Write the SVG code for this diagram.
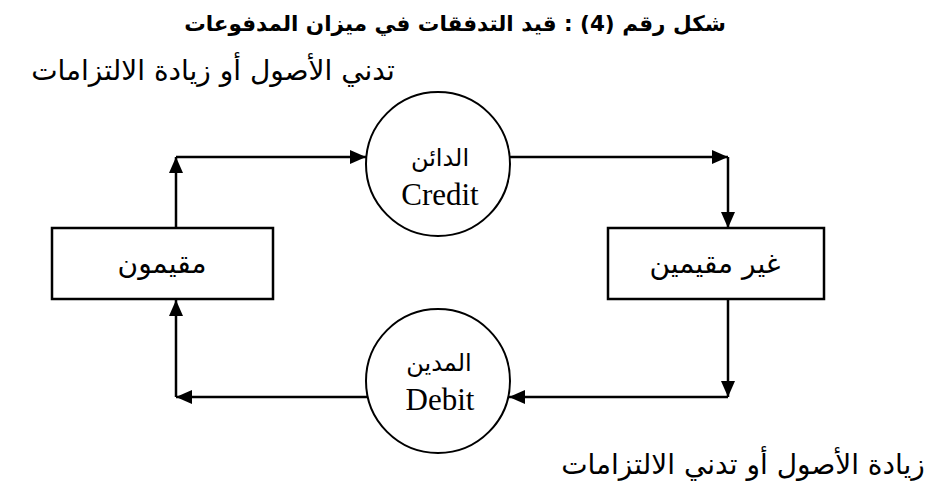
<svg xmlns="http://www.w3.org/2000/svg" width="939" height="494" viewBox="0 0 939 494">
<defs>
<marker id="ah" viewBox="0 0 16 14" refX="16" refY="7" markerWidth="16" markerHeight="14" markerUnits="userSpaceOnUse" orient="auto">
<path d="M0,0 L16,7 L0,14 Z" fill="#000"/>
</marker>
</defs>
<style>
.bg{fill:#fff}
.box{fill:#fff;stroke:#000;stroke-width:2.5}
.circ{fill:#fff;stroke:#000;stroke-width:2}
.ln{fill:none;stroke:#000;stroke-width:2.5}
.ar{font-family:"DejaVu Sans","Liberation Sans",sans-serif;fill:#000}
.en{font-family:"Liberation Serif","Times New Roman",serif;fill:#000}
</style>
<rect class="bg" x="0" y="0" width="939" height="494"/>
<g id="title">
<text class="ar" x="455" y="31" font-size="21.5" font-weight="bold" text-anchor="middle" direction="rtl">شكل رقم (4) : قيد التدفقات في ميزان المدفوعات</text>
</g>
<g id="label-top">
<text class="ar" x="213" y="80" font-size="28" text-anchor="middle" direction="rtl">تدني الأصول أو زيادة الالتزامات</text>
</g>
<g id="label-bottom">
<text class="ar" x="743" y="474" font-size="28" text-anchor="middle" direction="rtl">زيادة الأصول أو تدني الالتزامات</text>
</g>
<g id="connectors">
<polyline class="ln" points="176,228 176,157" marker-end="url(#ah)"/>
<polyline class="ln" points="176,157 366,157" marker-end="url(#ah)"/>
<polyline class="ln" points="510,157 728,157" marker-end="url(#ah)"/>
<polyline class="ln" points="728,157 728,228" marker-end="url(#ah)"/>
<polyline class="ln" points="728,299 728,397" marker-end="url(#ah)"/>
<polyline class="ln" points="728,397 509,397" marker-end="url(#ah)"/>
<polyline class="ln" points="368,397 176,397" marker-end="url(#ah)"/>
<polyline class="ln" points="176,397 176,300" marker-end="url(#ah)"/>
</g>
<g id="residents">
<rect class="box" x="52" y="228" width="221" height="71"/>
<text class="ar" x="162" y="273" font-size="28" text-anchor="middle" direction="rtl">مقيمون</text>
</g>
<g id="non-residents">
<rect class="box" x="608" y="228" width="216" height="71"/>
<text class="ar" x="715" y="273" font-size="28" text-anchor="middle" direction="rtl">غير مقيمين</text>
</g>
<g id="credit">
<circle class="circ" cx="438" cy="164" r="72"/>
<text class="ar" x="440" y="166" font-size="24" text-anchor="middle" direction="rtl">الدائن</text>
<text class="en" x="440" y="205" font-size="31" text-anchor="middle">Credit</text>
</g>
<g id="debit">
<circle class="circ" cx="438" cy="381" r="72"/>
<text class="ar" x="439" y="371" font-size="24" text-anchor="middle" direction="rtl">المدين</text>
<text class="en" x="440" y="410" font-size="31" text-anchor="middle">Debit</text>
</g>
</svg>
